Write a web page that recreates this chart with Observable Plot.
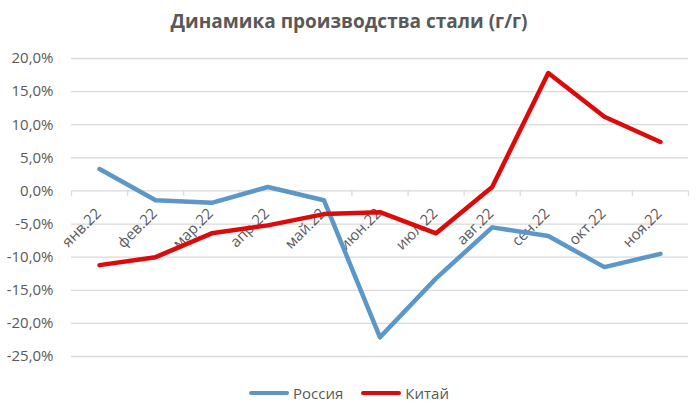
<!DOCTYPE html>
<html>
<head>
<meta charset="utf-8">
<script src="https://cdn.jsdelivr.net/npm/d3@7"></script>
<script src="https://cdn.jsdelivr.net/npm/@observablehq/plot@0.6"></script>
<style>
  body { margin: 0; background: #fff; font-family: "Open Sans", sans-serif; }
  #title { height: 40px; line-height: 42px; text-align: center; font-weight: bold; font-size: 19px; color: #595959; width: 698px; }
  #legend { width: 698px; height: 45px; display: flex; justify-content: center; align-items: center; font-size: 15px; color: #595959; }
  .sw { display: inline-block; width: 40px; height: 4px; border-radius: 2px; margin-right: 4px; }
  .item { display: flex; align-items: center; margin: 0 9px; }
</style>
</head>
<body>
<div id="title">Динамика производства стали (г/г)</div>
<div id="chart"></div>
<div id="legend"></div>
<script>
const categories = ["янв.22","фев.22","мар.22","апр.22","май.22","июн.22","июл.22","авг.22","сен.22","окт.22","ноя.22"];
const russia = [3.3, -1.4, -1.8, 0.6, -1.4, -22.1, -13.2, -5.5, -6.8, -11.5, -9.5];
const china = [-11.2, -10.0, -6.4, -5.2, -3.5, -3.2, -6.4, 0.6, 17.8, 11.2, 7.4];
const yTicks = [20, 15, 10, 5, 0, -5, -10, -15, -20, -25];
const seriesNames = ["Россия", "Китай"];
const colors = ["#5b97c8", "#dc0a0a"];

const rows = [];
categories.forEach((c, i) => {
  rows.push({i, cat: c, series: seriesNames[0], v: russia[i]});
  rows.push({i, cat: c, series: seriesNames[1], v: china[i]});
});
const idx = categories.map((c, i) => ({i, cat: c}));
const bounds = d3.range(categories.length + 1).map(k => k - 0.5);
const fmt = v => v.toFixed(1).replace(".", ",") + "%";

const chart = Plot.plot({
  width: 698,
  height: 330,
  marginLeft: 71,
  marginRight: 10,
  marginTop: 18,
  marginBottom: 14,
  style: {fontFamily: "Open Sans, sans-serif", color: "#595959", background: "#fff"},
  x: {type: "linear", domain: [-0.5, categories.length - 0.5], axis: null},
  y: {domain: [-25, 20], ticks: yTicks, tickFormat: fmt, tickSize: 0, tickPadding: 18, label: null},
  color: {domain: seriesNames, range: colors},
  marks: [
    Plot.gridY(yTicks, {stroke: "#d9d9d9", strokeOpacity: 1, strokeWidth: 1.3}),
    Plot.axisY(yTicks, {tickFormat: fmt, tickSize: 0, tickPadding: 18, fontSize: 15, fill: "#595959", label: null}),
    Plot.ruleX(bounds, {x: d => d, y1: 0, y2: -0.8, stroke: "#d9d9d9", strokeWidth: 1.3}),
    Plot.text(idx, {x: "i", y: () => 0, text: "cat", rotate: -45, textAnchor: "end", dx: -1, dy: 20, fontSize: 15, fill: "#595959"}),
    Plot.line(rows, {x: "i", y: "v", z: "series", stroke: "series", strokeWidth: 4.5, strokeLinejoin: "round", strokeLinecap: "round"})
  ]
});
document.getElementById("chart").appendChild(chart);

const legend = document.getElementById("legend");
seriesNames.forEach((s, k) => {
  const it = document.createElement("span");
  it.className = "item";
  const sw = document.createElement("span");
  sw.className = "sw";
  sw.style.background = colors[k];
  it.appendChild(sw);
  it.appendChild(document.createTextNode(s));
  legend.appendChild(it);
});
</script>
</body>
</html>
